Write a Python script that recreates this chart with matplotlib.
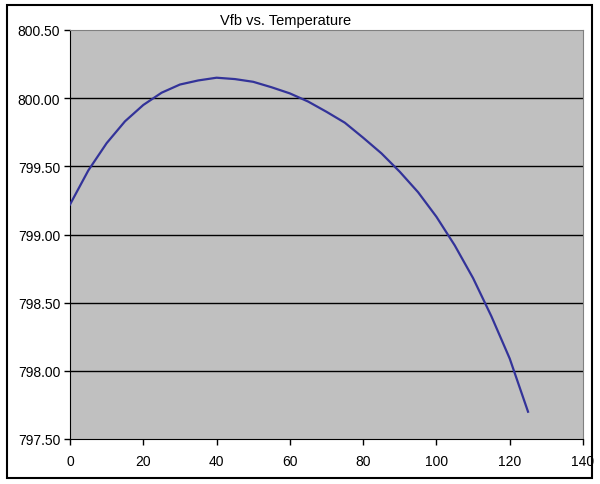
import matplotlib.pyplot as plt
from matplotlib.patches import Rectangle

# 温度 (x) 与 Vfb (y)
temperature = [0, 5, 10, 15, 20, 25, 30, 35, 40, 45, 50, 55, 60, 65,
               70, 75, 80, 85, 90, 95, 100, 105, 110, 115, 120, 125]
vfb = [799.22, 799.47, 799.67, 799.83, 799.95, 800.04, 800.10, 800.13,
       800.15, 800.14, 800.12, 800.08, 800.035, 799.975, 799.90, 799.82,
       799.71, 799.595, 799.46, 799.31, 799.13, 798.92, 798.68, 798.40,
       798.09, 797.70]

x_ticks = [0, 20, 40, 60, 80, 100, 120, 140]
y_ticks = [797.5, 798.0, 798.5, 799.0, 799.5, 800.0, 800.5]

plt.rcParams['font.family'] = ['Liberation Sans', 'DejaVu Sans']

fig = plt.figure(figsize=(6, 4.85), dpi=100)
W, H = 600, 485
ax = fig.add_axes([70 / W, 1 - 440 / H, (583 - 70) / W, (440 - 31) / H])

# 外框
fig.patches.append(Rectangle((7 / W, 1 - 479 / H), 585 / W, 473 / H,
                             transform=fig.transFigure, fill=False,
                             edgecolor='black', linewidth=1.5))

ax.set_facecolor('#C0C0C0')
ax.plot(temperature, vfb, color='#333399', linewidth=1.6, zorder=3)

ax.set_xlim(0, 140)
ax.set_ylim(797.5, 800.5)
ax.set_xticks(x_ticks)
ax.set_yticks(y_ticks)
ax.set_yticklabels(['{:.2f}'.format(v) for v in y_ticks])
ax.tick_params(direction='out', length=4, width=1, labelsize=10,
               colors='black')
ax.tick_params(axis='x', pad=7)
ax.tick_params(axis='y', pad=3)

for v in y_ticks[1:-1]:
    ax.axhline(v, color='black', linewidth=1, zorder=2)

ax.spines['left'].set_color('black')
ax.spines['bottom'].set_color('black')
ax.spines['top'].set_color('#808080')
ax.spines['right'].set_color('#808080')

fig.text(286 / W, 1 - 21 / H, 'Vfb vs. Temperature', ha='center',
         va='center', fontsize=10.5)

plt.savefig('out.png', dpi=100)
